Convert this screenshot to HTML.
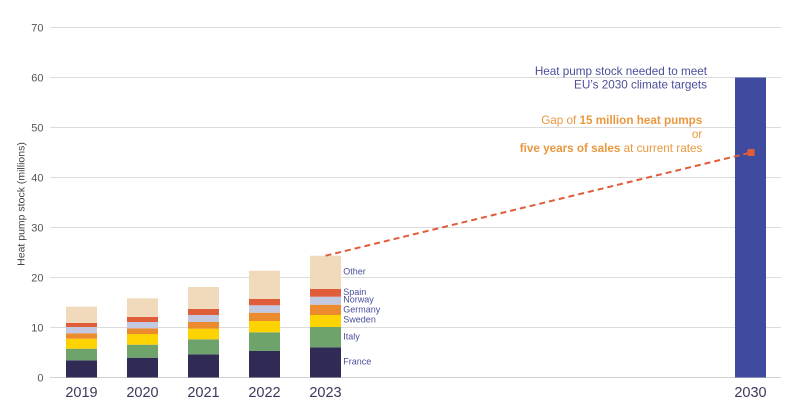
<!DOCTYPE html>
<html>
<head>
<meta charset="utf-8">
<style>
  html, body { margin:0; padding:0; background:#ffffff; }
  svg { display:block; font-family:"Liberation Sans", Arial, sans-serif; }
</style>
</head>
<body>
<svg width="798" height="418" viewBox="0 0 798 418" xmlns="http://www.w3.org/2000/svg">
  <rect width="798" height="418" fill="#ffffff"/>
  <!-- gridlines -->
  <g stroke="#dcdcdc" stroke-width="1">
    <line x1="50" y1="27.5" x2="781" y2="27.5"/>
    <line x1="50" y1="77.5" x2="781" y2="77.5"/>
    <line x1="50" y1="127.5" x2="781" y2="127.5"/>
    <line x1="50" y1="177.5" x2="781" y2="177.5"/>
    <line x1="50" y1="227.5" x2="781" y2="227.5"/>
    <line x1="50" y1="277.5" x2="781" y2="277.5"/>
    <line x1="50" y1="327.5" x2="781" y2="327.5"/>
    <line x1="50" y1="377.5" x2="781" y2="377.5" stroke="#d0d0d0"/>
  </g>
  <!-- y tick labels -->
  <g fill="#555555" font-size="11" text-anchor="end">
    <text x="43.5" y="31.5">70</text>
    <text x="43.5" y="81.5">60</text>
    <text x="43.5" y="131.5">50</text>
    <text x="43.5" y="181.5">40</text>
    <text x="43.5" y="231.5">30</text>
    <text x="43.5" y="281.5">20</text>
    <text x="43.5" y="331.5">10</text>
    <text x="43.5" y="381.5">0</text>
  </g>
  <text transform="translate(24.5,204) rotate(-90)" text-anchor="middle" font-size="10.5" fill="#444444">Heat pump stock (millions)</text>

  <!-- stacked bars: France, Italy, Sweden, Germany, Norway, Spain, Other -->
  <!-- 2019 -->
  <g>
    <rect x="66" y="360.3" width="31" height="17.2" fill="#302b55"/>
    <rect x="66" y="348.7" width="31" height="11.6" fill="#6fa36c"/>
    <rect x="66" y="338.7" width="31" height="10" fill="#fdd302"/>
    <rect x="66" y="333.3" width="31" height="5.4" fill="#ec8b2d"/>
    <rect x="66" y="327" width="31" height="6.3" fill="#c3c9e1"/>
    <rect x="66" y="323" width="31" height="4" fill="#e05d3a"/>
    <rect x="66" y="306.7" width="31" height="16.3" fill="#f1d9bb"/>
  </g>
  <!-- 2020 -->
  <g>
    <rect x="127" y="357.7" width="31" height="19.8" fill="#302b55"/>
    <rect x="127" y="344.7" width="31" height="13" fill="#6fa36c"/>
    <rect x="127" y="334" width="31" height="10.7" fill="#fdd302"/>
    <rect x="127" y="328.3" width="31" height="5.7" fill="#ec8b2d"/>
    <rect x="127" y="322" width="31" height="6.3" fill="#c3c9e1"/>
    <rect x="127" y="317" width="31" height="5" fill="#e05d3a"/>
    <rect x="127" y="298.3" width="31" height="18.7" fill="#f1d9bb"/>
  </g>
  <!-- 2021 -->
  <g>
    <rect x="188" y="354.3" width="31" height="23.2" fill="#302b55"/>
    <rect x="188" y="339.3" width="31" height="15" fill="#6fa36c"/>
    <rect x="188" y="328.7" width="31" height="10.6" fill="#fdd302"/>
    <rect x="188" y="322" width="31" height="6.7" fill="#ec8b2d"/>
    <rect x="188" y="315" width="31" height="7" fill="#c3c9e1"/>
    <rect x="188" y="309" width="31" height="6" fill="#e05d3a"/>
    <rect x="188" y="287" width="31" height="22" fill="#f1d9bb"/>
  </g>
  <!-- 2022 -->
  <g>
    <rect x="249" y="351" width="31" height="26.5" fill="#302b55"/>
    <rect x="249" y="332.3" width="31" height="18.7" fill="#6fa36c"/>
    <rect x="249" y="321" width="31" height="11.3" fill="#fdd302"/>
    <rect x="249" y="312.7" width="31" height="8.3" fill="#ec8b2d"/>
    <rect x="249" y="305.3" width="31" height="7.4" fill="#c3c9e1"/>
    <rect x="249" y="299" width="31" height="6.3" fill="#e05d3a"/>
    <rect x="249" y="270.7" width="31" height="28.3" fill="#f1d9bb"/>
  </g>
  <!-- 2023 -->
  <g>
    <rect x="310" y="347.3" width="31" height="30.2" fill="#302b55"/>
    <rect x="310" y="327" width="31" height="20.3" fill="#6fa36c"/>
    <rect x="310" y="315" width="31" height="12" fill="#fdd302"/>
    <rect x="310" y="304.7" width="31" height="10.3" fill="#ec8b2d"/>
    <rect x="310" y="296.7" width="31" height="8" fill="#c3c9e1"/>
    <rect x="310" y="289" width="31" height="7.7" fill="#e05d3a"/>
    <rect x="310" y="255.7" width="31" height="33.3" fill="#f1d9bb"/>
  </g>
  <!-- 2030 -->
  <rect x="735" y="77.5" width="31" height="300" fill="#3f4b9e"/>

  <!-- category labels -->
  <g fill="#4b4f9a" font-size="9">
    <text x="343.3" y="274.3">Other</text>
    <text x="343.3" y="295">Spain</text>
    <text x="343.3" y="302.7">Norway</text>
    <text x="343.3" y="312.3">Germany</text>
    <text x="343.3" y="322.7">Sweden</text>
    <text x="343.3" y="339.3">Italy</text>
    <text x="343.3" y="364.3">France</text>
  </g>

  <!-- year labels -->
  <g fill="#3a3a5c" font-size="14.5" text-anchor="middle">
    <text x="81.5" y="397">2019</text>
    <text x="142.5" y="397">2020</text>
    <text x="203.5" y="397">2021</text>
    <text x="264.5" y="397">2022</text>
    <text x="325.5" y="397">2023</text>
    <text x="750.5" y="397">2030</text>
  </g>

  <!-- dashed gap line -->
  <line x1="325.5" y1="255.7" x2="751" y2="152.5" stroke="#e05d3a" stroke-width="2" stroke-dasharray="6,4"/>
  <rect x="747.5" y="149" width="7" height="7" fill="#e05d3a"/>

  <!-- annotations -->
  <g fill="#4b4f9a" font-size="11.7" text-anchor="end">
    <text x="707" y="74.8">Heat pump stock needed to meet</text>
    <text x="707" y="88.4">EU’s 2030 climate targets</text>
  </g>
  <g fill="#e9983f" font-size="11.7" text-anchor="end">
    <text x="702.3" y="124">Gap of <tspan font-weight="bold">15 million heat pumps</tspan></text>
    <text x="702.3" y="138">or</text>
    <text x="702.3" y="152"><tspan font-weight="bold">five years of sales</tspan> at current rates</text>
  </g>
</svg>
</body>
</html>
